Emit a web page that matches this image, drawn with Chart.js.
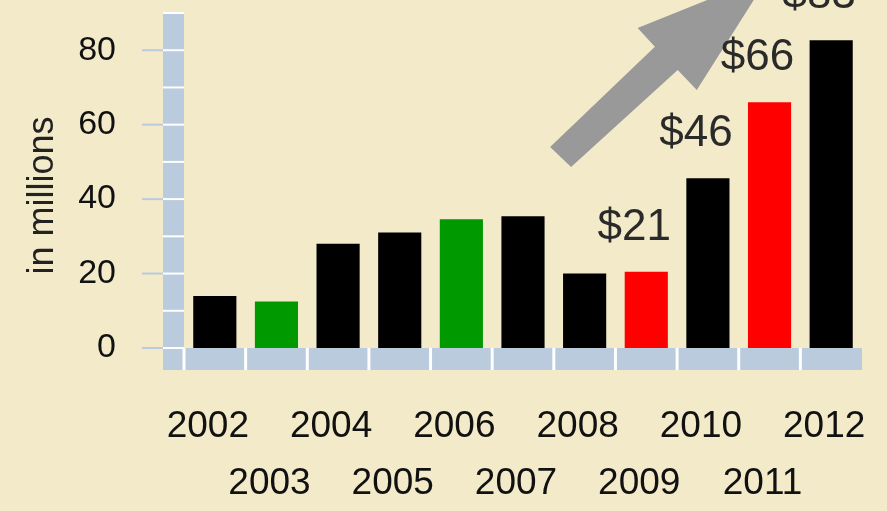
<!DOCTYPE html>
<html>
<head>
<meta charset="utf-8">
<script src="https://cdn.jsdelivr.net/npm/chart.js@4.4.1/dist/chart.umd.min.js"></script>
<style>
  html, body { margin: 0; padding: 0; background: #f2eac8; }
  #wrap { width: 887px; height: 511px; }
</style>
</head>
<body>
<div id="wrap"><canvas id="grafico"></canvas></div>
<script>
// dados do gráfico
const anos = ['2002', '2003', '2004', '2005', '2006', '2007', '2008', '2009', '2010', '2011', '2012'];
const valores = [14, 12.5, 28, 31, 34.6, 35.4, 20, 20.5, 45.6, 66, 82.7];
const cores = ['#000000', '#009900', '#000000', '#000000', '#009900', '#000000', '#000000', '#ff0000', '#000000', '#ff0000', '#000000'];
const rotulos = ['', '', '', '', '', '', '', '$21', '$46', '$66', '$83'];
const ticksY = [0, 20, 40, 60, 80];
const linhasParede = [0, 10, 20, 30, 40, 50, 60, 70, 80, 90];

// seta cinza (em coordenadas de índice / valor)
const setaX = [5.44, 7.14, 6.86, 9.0, 7.82, 7.51, 5.78];
const setaY = [54.0, 80.9, 86.0, 100.2, 69.3, 74.7, 48.6];

const azul = '#b9cbdc';
const fonte = "'Liberation Sans', Arial, sans-serif";

// parede e chão do gráfico "3D"
const cenario = {
  id: 'cenario',
  beforeDatasetsDraw(chart) {
    const { ctx, chartArea, scales } = chart;
    const y = scales.y;
    const prof = 21, chao = 22;
    ctx.save();
    ctx.fillStyle = azul;
    ctx.fillRect(chartArea.left - prof, y.getPixelForValue(90), prof, chartArea.bottom + chao - y.getPixelForValue(90));
    ctx.fillRect(chartArea.left - prof, chartArea.bottom, chartArea.right - chartArea.left + prof, chao);

    ctx.strokeStyle = '#ffffff';
    ctx.lineWidth = 2;
    linhasParede.forEach(v => {
      const py = y.getPixelForValue(v);
      ctx.beginPath();
      ctx.moveTo(chartArea.left - prof, py);
      ctx.lineTo(chartArea.left, py);
      ctx.stroke();
    });
    const w = (chartArea.right - chartArea.left) / anos.length;
    ctx.lineWidth = 3;
    for (let k = 0; k < anos.length; k++) {
      const px = chartArea.left + k * w;
      ctx.beginPath();
      ctx.moveTo(px, chartArea.bottom);
      ctx.lineTo(px, chartArea.bottom + chao);
      ctx.stroke();
    }
    // marcas do eixo y
    ctx.strokeStyle = azul;
    ctx.lineWidth = 2;
    ticksY.forEach(v => {
      const py = y.getPixelForValue(v);
      ctx.beginPath();
      ctx.moveTo(chartArea.left - prof - 21, py);
      ctx.lineTo(chartArea.left - prof, py);
      ctx.stroke();
    });
    ctx.restore();
  }
};

const seta = {
  id: 'seta',
  afterDatasetsDraw(chart) {
    const { ctx, scales } = chart;
    ctx.save();
    ctx.fillStyle = '#999999';
    ctx.beginPath();
    setaX.forEach((v, i) => {
      const px = scales.x.getPixelForValue(v);
      const py = scales.y.getPixelForValue(setaY[i]);
      if (i === 0) ctx.moveTo(px, py); else ctx.lineTo(px, py);
    });
    ctx.closePath();
    ctx.fill();
    ctx.restore();
  }
};

const valoresTexto = {
  id: 'valoresTexto',
  afterDatasetsDraw(chart) {
    const { ctx } = chart;
    const meta = chart.getDatasetMeta(0);
    ctx.save();
    ctx.font = '44px ' + fonte;
    ctx.fillStyle = '#2a2a2a';
    ctx.textAlign = 'center';
    ctx.textBaseline = 'middle';
    meta.data.forEach((bar, i) => {
      if (rotulos[i]) ctx.fillText(rotulos[i], bar.x - 12, bar.y - 44);
    });
    ctx.restore();
  }
};

const ctxG = document.getElementById('grafico').getContext('2d');
const grafico = new Chart(ctxG, {
  type: 'bar',
  data: {
    labels: anos,
    datasets: [{
      data: valores,
      backgroundColor: cores,
      borderWidth: 0,
      categoryPercentage: 1,
      barPercentage: 0.7
    }]
  },
  options: {
    responsive: true,
    maintainAspectRatio: false,
    animation: false,
    layout: { padding: { top: 13, right: 25, left: 0, bottom: 0 } },
    plugins: { legend: { display: false }, tooltip: { enabled: false } },
    scales: {
      x: {
        grid: { display: false, drawTicks: false },
        border: { display: false },
        afterFit(scale) {
          scale.height = 163;
          scale.paddingLeft = 0;
          scale.paddingRight = 0;
        },
        ticks: {
          autoSkip: false,
          maxRotation: 0,
          minRotation: 0,
          padding: 50,
          labelOffset: -7,
          color: '#111111',
          font: { family: fonte, size: 37, lineHeight: '57px' },
          callback(v, i) { return i % 2 === 0 ? [anos[i], ''] : ['', anos[i]]; }
        }
      },
      y: {
        min: 0,
        max: 90,
        grid: { display: false, drawTicks: false },
        border: { display: false },
        afterFit(scale) {
          scale.width = 184;
          scale.paddingTop = 0;
          scale.paddingBottom = 0;
        },
        afterBuildTicks(scale) { scale.ticks = ticksY.map(v => ({ value: v })); },
        ticks: {
          padding: 68,
          color: '#111111',
          font: { family: fonte, size: 34, lineHeight: 0.7 }
        },
        title: {
          display: true,
          text: 'in millions   ',
          color: '#222222',
          font: { family: fonte, size: 36 },
          padding: { top: 21, bottom: 0 }
        }
      }
    }
  },
  plugins: [cenario, seta, valoresTexto]
});
</script>
</body>
</html>
